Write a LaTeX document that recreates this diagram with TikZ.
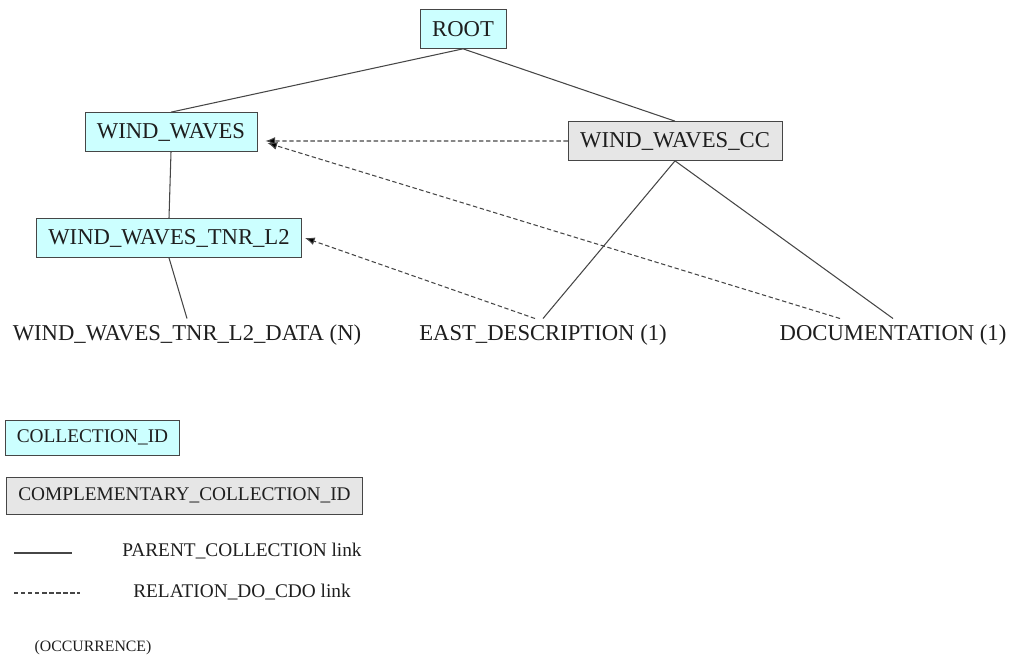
\documentclass[tikz,border=0pt]{standalone}
\usepackage{fontspec}
\setmainfont{Liberation Serif}
\usetikzlibrary{arrows.meta}
\definecolor{collcyan}{RGB}{204,255,255}
\definecolor{compgrey}{RGB}{230,230,230}
\definecolor{linkgrey}{RGB}{70,70,70}
\definecolor{textgrey}{RGB}{30,30,30}
\begin{document}
\begin{tikzpicture}[x=0.02cm,y=-0.02cm,
    coll/.style={draw=linkgrey,fill=collcyan,text=textgrey,inner xsep=0.24cm,
      minimum height=0.78cm,font=\fontsize{12.9}{15}\selectfont},
    comp/.style={coll,fill=compgrey},
    leaf/.style={text=textgrey,font=\fontsize{12.9}{15}\selectfont},
    legend/.style={text=textgrey,font=\fontsize{11}{13}\selectfont},
    parent/.style={draw=linkgrey,line width=0.6pt},
    relation/.style={parent,dash pattern=on 2.5pt off 1.5pt,
      -{Latex[length=5.5pt,width=4.5pt,fill=black]}}]
  \useasboundingbox (0,0) rectangle (1013,661);
  \node[coll] (root) at (463,29) {ROOT};
  \node[coll] (ww) at (171,132) {WIND\_WAVES};
  \node[comp] (wwcc) at (675,141) {WIND\_WAVES\_CC};
  \node[coll] (tnr) at (169,238) {WIND\_WAVES\_TNR\_L2};
  \node[leaf] (data) at (187,335) {WIND\_WAVES\_TNR\_L2\_DATA (N)};
  \node[leaf] (east) at (543,335) {EAST\_DESCRIPTION (1)};
  \node[leaf] (doc) at (893,335) {DOCUMENTATION (1)};
  \draw[parent] (root.south) -- (ww.north);
  \draw[parent] (root.south) -- (wwcc.north);
  \draw[parent] (ww.south) -- (tnr.north);
  \draw[parent] (tnr.south) -- (data.north);
  \draw[parent] (wwcc.south) -- (east.north);
  \draw[parent] (wwcc.south) -- (doc.north);
  \draw[relation] (wwcc.west) -- ([xshift=0.16cm,yshift=-0.18cm]ww.east);
  \draw[relation] ([xshift=-1.06cm]doc.north) -- ([xshift=0.2cm,yshift=-0.22cm]ww.east);
  \draw[relation] ([xshift=-0.16cm]east.north) -- ([xshift=0.06cm]tnr.east);
  \node[coll,legend,minimum height=0.7cm,inner xsep=0.23cm,fill=collcyan] (lcoll) at (92.5,437.5) {COLLECTION\_ID};
  \node[coll,legend,minimum height=0.74cm,inner xsep=0.23cm,fill=compgrey] (lcomp) at (184.5,495.5) {COMPLEMENTARY\_COLLECTION\_ID};
  \draw[parent] (14,553) -- (72,553);
  \node[legend] (lparent) at (242,551) {PARENT\_COLLECTION link};
  \draw[parent,dash pattern=on 2.5pt off 1.5pt] (14,593) -- (80,593);
  \node[legend] (lrel) at (242,592) {RELATION\_DO\_CDO link};
  \node[legend,font=\fontsize{9}{11}\selectfont] (locc) at (93,648) {(OCCURRENCE)};
\end{tikzpicture}
\end{document}
